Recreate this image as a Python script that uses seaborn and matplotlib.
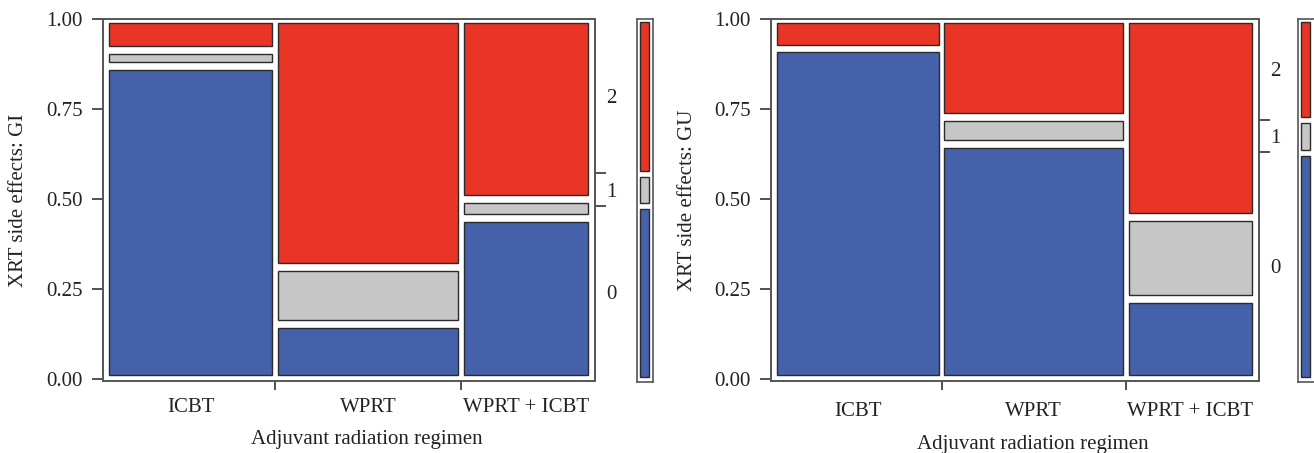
import numpy as np
import matplotlib.pyplot as plt
import seaborn as sns

# Mosaic data: column share of patients per regimen, then grade shares inside each column
regimens = ["ICBT", "WPRT", "WPRT + ICBT"]
regimen_share = [0.348, 0.384, 0.268]
grades = ["0", "1", "2"]

gi_grade0 = [0.870, 0.152, 0.448]
gi_grade1 = [0.045, 0.158, 0.052]
gi_grade2 = [0.085, 0.690, 0.500]

gu_grade0 = [0.918, 0.653, 0.221]
gu_grade1 = [0.000, 0.076, 0.229]
gu_grade2 = [0.082, 0.271, 0.550]

sns.set_theme(style="ticks", rc={"xtick.labelsize": 15, "ytick.labelsize": 15,
                                 "axes.labelsize": 15, "font.size": 15})
plt.rcParams["font.family"] = ["Liberation Serif", "DejaVu Serif"]
palette = sns.color_palette(["#4561aa", "#c6c6c6", "#e83525"])
EDGE = "#2b2b2b"
FRAME = "#555555"
TXT = "#222222"
W, H = 1314, 453


def frac(x0, x1, top, bottom):
    return [x0 / W, 1 - bottom / H, (x1 - x0) / W, (bottom - top) / H]


def style_frame(ax):
    for s in ax.spines.values():
        s.set_visible(True)
        s.set_color(FRAME)
        s.set_linewidth(1.2)


def mosaic(ax, lax, props, ylabel, xpad, xlab_y):
    props = np.array(props)
    widths = np.array(regimen_share)
    lefts = np.concatenate([[0], np.cumsum(widths)[:-1]])
    bottoms = np.vstack([np.zeros(len(widths)), np.cumsum(props, axis=0)[:-1]])
    px, py = 0.0062, 0.011
    for k in range(len(grades)):
        h = props[k]
        keep = h > 0
        ax.bar(lefts[keep] + px, h[keep] - 2 * py, width=widths[keep] - 2 * px,
               bottom=bottoms[k][keep] + py, align="edge", color=palette[k],
               edgecolor=EDGE, linewidth=1)
    ax.set_xlim(-0.007, 1.009)
    ax.set_ylim(-0.0056, 1.0)
    style_frame(ax)

    ax.set_yticks([0, 0.25, 0.5, 0.75, 1.0])
    ax.set_yticklabels(["0.00", "0.25", "0.50", "0.75", "1.00"], color=TXT)
    ax.tick_params(axis="y", length=8, width=1.2, color="#333333", pad=6.5, left=True)
    ax.set_xticks(np.cumsum(widths)[:-1])
    ax.set_xticklabels([])
    ax.tick_params(axis="x", which="major", length=6.5, width=1.2, color="#333333", bottom=True)
    ax.set_xticks(lefts + widths / 2, minor=True)
    ax.set_xticklabels(regimens, minor=True, color=TXT)
    ax.tick_params(axis="x", which="minor", length=0, pad=xpad)
    ax.set_ylabel(ylabel, color=TXT)
    ax.yaxis.set_label_coords(-0.152, 0.5)
    ax.set_xlabel("Adjuvant radiation regimen", color=TXT)
    ax.xaxis.set_label_coords(0.536, xlab_y)

    # marginal grade distribution
    marg = props @ widths / widths.sum()
    cum = np.cumsum(marg)
    ax2 = ax.twinx()
    ax2.set_ylim(ax.get_ylim())
    style_frame(ax2)
    ax2.set_yticks(cum[:-1])
    ax2.set_yticklabels([])
    ax2.tick_params(axis="y", which="major", length=8, width=1.2, color="#333333", right=True)
    ax2.set_yticks(cum - marg / 2, minor=True)
    ax2.set_yticklabels(grades, minor=True, color=TXT)
    ax2.tick_params(axis="y", which="minor", length=0, pad=8)

    starts = cum - marg
    pl = 0.0083
    lax.bar(np.full(len(grades), 0.18), marg - 2 * pl, width=0.55, bottom=starts + pl,
            align="edge", color=palette, edgecolor=EDGE, linewidth=1)
    lax.set_xlim(0, 1)
    lax.set_ylim(-0.0056, 1.0)
    lax.set_xticks([])
    lax.set_yticks([])
    style_frame(lax)


fig = plt.figure(figsize=(W / 100, H / 100), dpi=100)
ax_gi = fig.add_axes(frac(103, 595, 19, 381))
lg_gi = fig.add_axes(frac(637, 653, 19, 382))
ax_gu = fig.add_axes(frac(771, 1259, 19, 381))
lg_gu = fig.add_axes(frac(1298, 1315, 19, 382))

mosaic(ax_gi, lg_gi, [gi_grade0, gi_grade1, gi_grade2], "XRT side effects: GI", 12.5, -0.135)
mosaic(ax_gu, lg_gu, [gu_grade0, gu_grade1, gu_grade2], "XRT side effects: GU", 15, -0.149)

fig.savefig("out.png", dpi=100)
